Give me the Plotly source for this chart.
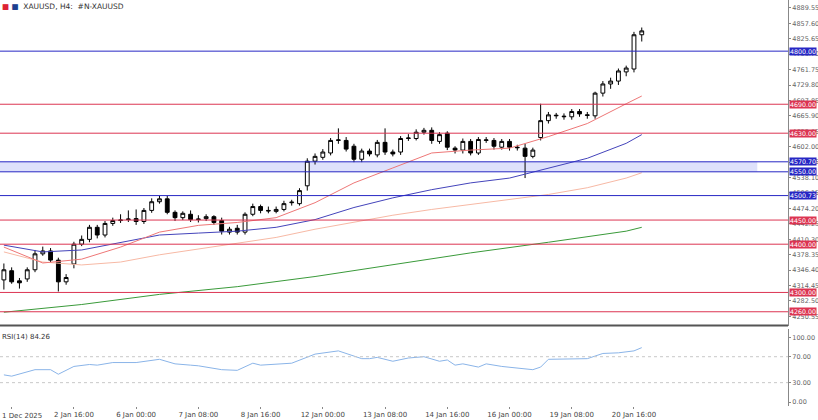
import plotly.graph_objects as go
from plotly.subplots import make_subplots

# XAUUSD H4 candles
opens = [4326,4345,4324,4328,4347,4380,4386,4367,4322,4359,
         4400,4410,4435,4419,4443,4449,4451,4453,4447,4470,
         4488,4494,4466,4455,4462,4451,4453,4457,4449,4425,
         4433,4425,4462,4478,4470,4468,4472,4486,4484,4521,
         4572,4580,4589,4615,4615,4603,4576,4593,4585,4611,
         4591,4591,4619,4619,4632,4636,4613,4630,4599,4595,
         4613,4589,4615,4615,4601,4613,4601,4599,4582,4621,
         4656,4666,4664,4664,4675,4668,4666,4713,4732,4738,
         4757,4763,4834]
closes = [4347,4322,4320,4347,4380,4386,4367,4322,4331,4400,
          4410,4435,4419,4443,4449,4450,4452,4447,4470,4488,
          4494,4466,4455,4464,4451,4452,4457,4445,4427,4431,
          4425,4462,4478,4470,4469,4472,4484,4487,4511,4572,
          4582,4591,4615,4616,4597,4576,4593,4587,4611,4591,
          4587,4619,4620,4632,4636,4615,4627,4601,4595,4613,
          4589,4617,4616,4603,4613,4601,4600,4582,4595,4656,
          4668,4667,4665,4675,4670,4667,4713,4732,4738,4759,
          4765,4834,4842]
highs = [4360,4352,4330,4352,4388,4395,4392,4372,4338,4405,
         4418,4440,4440,4448,4455,4462,4470,4472,4475,4495,
         4500,4500,4470,4468,4470,4460,4462,4460,4455,4436,
         4440,4466,4484,4482,4478,4478,4490,4492,4516,4578,
         4588,4597,4620,4640,4622,4608,4598,4598,4616,4640,
         4596,4624,4628,4638,4641,4642,4632,4634,4603,4619,
         4618,4622,4622,4620,4618,4618,4606,4608,4600,4691,
         4674,4672,4671,4680,4680,4674,4716,4738,4745,4764,
         4770,4840,4849]
lows = [4306,4318,4308,4322,4342,4376,4362,4302,4316,4350,
        4396,4404,4412,4414,4438,4444,4446,4440,4442,4465,
        4484,4462,4448,4450,4446,4445,4448,4440,4420,4420,
        4420,4420,4458,4464,4464,4464,4468,4480,4480,4511,
        4565,4575,4584,4608,4592,4570,4570,4582,4580,4585,
        4582,4585,4614,4615,4627,4608,4608,4595,4588,4588,
        4584,4585,4610,4596,4596,4594,4594,4537,4578,4615,
        4650,4660,4658,4658,4664,4660,4660,4706,4722,4730,
        4748,4756,4820]

# moving averages sampled every 5 bars
ma_idx = [0,5,10,15,20,25,30,35,40,45,50,55,60,65,70,75,80,82]
ma_red = [4394,4361,4369,4394,4425,4439,4445,4455,4486,4527,4558,4589,4595,4599,4623,4650,4691,4707]
ma_blue = [4398,4384,4388,4404,4419,4423,4427,4435,4451,4476,4496,4513,4527,4537,4558,4578,4609,4627]
ma_salmon = [4384,4363,4357,4363,4378,4390,4402,4414,4431,4445,4460,4472,4482,4492,4503,4517,4537,4548]
green_idx = [0,10,20,30,40,50,60,70,80,82]
ma_green = [4259,4275,4296,4312,4333,4357,4382,4404,4427,4435]

# RSI(14)
rsi_idx = [0,1,4,6,7,9,11,12,14,17,20,22,24,25,28,30,32,33,37,40,43,46,47,48,50,52,54,56,57,58,59,61,62,64,68,69,70,73,75,77,79,81,82]
rsi_val = [42,40,50,50,43,55,58,57,61,61,66,59,57,56,50,49,60,57,60,74,79,67,67,69,63,68,70,63,65,57,59,54,59,55,50,54,66,66,67,75,76,79,84]

# horizontal levels
levels = [4800.00, 4690.00, 4630.00, 4570.70, 4550.00, 4500.73, 4450.00, 4400.00, 4300.00, 4260.00]
level_colors = ['#2727c4','#dc3552','#dc3552','#2727c4','#2727c4','#2727c4','#dc3552','#dc3552','#dc3552','#dc3552']

price_ticks = [4889.55,4857.60,4825.65,4793.70,4761.75,4729.80,4697.85,4665.90,4633.95,4602.00,
               4570.05,4538.10,4506.15,4474.20,4442.25,4410.30,4378.35,4346.40,4314.45,4282.50,4250.55]
time_labels = ['1 Dec 2025','2 Jan 16:00','6 Jan 00:00','7 Jan 08:00','8 Jan 16:00','12 Jan 00:00',
               '13 Jan 08:00','14 Jan 16:00','16 Jan 00:00','19 Jan 08:00','20 Jan 16:00']
time_pos = [1,9,17,25,33,41,49,57,65,73,81]

bars = list(range(len(opens)))

fig = make_subplots(rows=2, cols=1, shared_xaxes=True, row_heights=[0.81, 0.19], vertical_spacing=0.008)

fig.add_trace(go.Scatter(x=green_idx, y=ma_green, mode='lines', line=dict(color='#3a9a3a', width=1)), 1, 1)
fig.add_trace(go.Scatter(x=ma_idx, y=ma_salmon, mode='lines', line=dict(color='#f7b9a5', width=1)), 1, 1)
fig.add_trace(go.Scatter(x=ma_idx, y=ma_blue, mode='lines', line=dict(color='#4444bb', width=1)), 1, 1)
fig.add_trace(go.Scatter(x=ma_idx, y=ma_red, mode='lines', line=dict(color='#ee7777', width=1)), 1, 1)

fig.add_trace(go.Candlestick(
    x=bars, open=opens, high=highs, low=lows, close=closes,
    increasing=dict(line=dict(color='black', width=1), fillcolor='white'),
    decreasing=dict(line=dict(color='black', width=1), fillcolor='black'),
    whiskerwidth=0, hoverinfo='skip'), 1, 1)

fig.add_trace(go.Scatter(x=rsi_idx, y=rsi_val, mode='lines', line=dict(color='#8ab4e8', width=1)), 2, 1)

shapes = []
# shaded zone
shapes.append(dict(type='rect', xref='x domain', yref='y', x0=0, x1=0.961, y0=4550, y1=4570.7,
                   fillcolor='rgba(200,205,248,0.6)', line=dict(width=0), layer='below'))
for lv, c in zip(levels, level_colors):
    shapes.append(dict(type='line', xref='x domain', yref='y', x0=0, x1=1, y0=lv, y1=lv,
                       line=dict(color=c, width=1)))
for lv in [70, 30]:
    shapes.append(dict(type='line', xref='x2 domain', yref='y2', x0=0, x1=1, y0=lv, y1=lv,
                       line=dict(color='#c8c8c8', width=1, dash='dot')))
# separator between panels
shapes.append(dict(type='line', xref='paper', yref='paper', x0=0, x1=1, y0=0.198, y1=0.198,
                   line=dict(color='#555555', width=2)))

annotations = []
for lv, c in zip(levels, level_colors):
    annotations.append(dict(xref='paper', yref='y', x=1.001, y=lv, text='%.2f' % lv, showarrow=False,
                            xanchor='left', font=dict(size=6.3, color='white', family='DejaVu Sans'),
                            bgcolor=c, borderpad=0))
annotations.append(dict(xref='paper', yref='paper', x=0.0, y=1.0, xanchor='left', yanchor='top',
                        text='<span style="color:#d23">■</span> <span style="color:#1d3f8f">■</span>  XAUUSD, H4:  #N-XAUUSD',
                        showarrow=False, font=dict(size=7.5, color='#333', family='DejaVu Sans')))
annotations.append(dict(xref='x2 domain', yref='y2 domain', x=0.0, y=0.98, xanchor='left', yanchor='top',
                        text='RSI(14) 84.26', showarrow=False, font=dict(size=7, color='#333', family='DejaVu Sans')))
# first time label sits flush left
annotations.append(dict(xref='paper', yref='paper', x=0.0, y=0, yshift=-4, xanchor='left', yanchor='top',
                        text=time_labels[0], showarrow=False, font=dict(size=7, color='#444', family='DejaVu Sans')))

fig.update_layout(
    width=818, height=420, margin=dict(l=0, r=30, t=0, b=14),
    plot_bgcolor='white', paper_bgcolor='white', showlegend=False,
    shapes=shapes, annotations=annotations,
    font=dict(family='DejaVu Sans', size=7, color='#555'),
)
fig.update_xaxes(range=[-0.5, 100.8], showgrid=False, zeroline=False, rangeslider_visible=False,
                 showticklabels=False, ticks='')
fig.update_xaxes(row=2, col=1, showticklabels=True, tickvals=time_pos, ticktext=[''] + time_labels[1:],
                 tickfont=dict(size=7, color='#444'), ticks='outside', ticklen=2, tickcolor='#888')
fig.update_yaxes(row=1, col=1, range=[4230, 4906], side='right', tickvals=price_ticks,
                 ticktext=['%.2f' % t for t in price_ticks], showgrid=False, zeroline=False,
                 showline=True, linecolor='#888', linewidth=1, ticks='outside', ticklen=2, tickcolor='#888',
                 tickfont=dict(size=6.5, color='#666'))
fig.update_yaxes(row=2, col=1, range=[-6, 112], side='right', tickvals=[100, 70, 30, 0],
                 ticktext=['100.00', '70.00', '30.00', '0.00'], showgrid=False, zeroline=False,
                 showline=True, linecolor='#888', linewidth=1, ticks='outside', ticklen=2, tickcolor='#888',
                 tickfont=dict(size=6.5, color='#666'))

fig.write_html("out.html", config={'displayModeBar': False},
               post_script="document.body.style.margin='0';")
